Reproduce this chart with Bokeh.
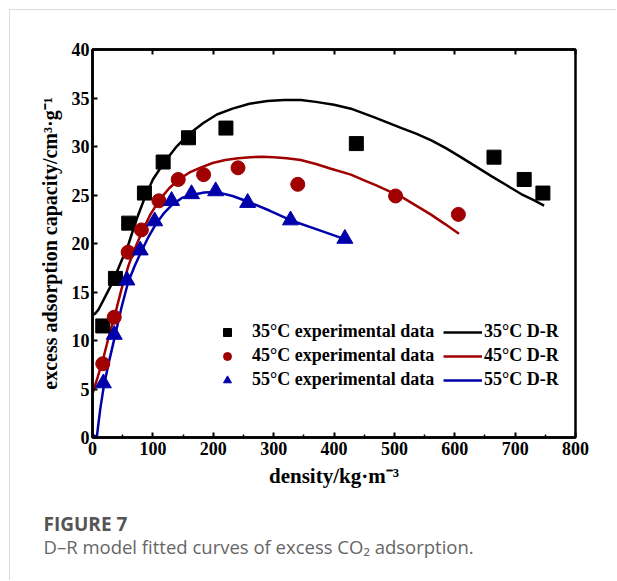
from bokeh.plotting import figure
from bokeh.models import Range1d, LinearAxis, Legend, LegendItem, Label, FixedTicker
from bokeh.embed import file_html
from bokeh.resources import INLINE

# ---- data ----
dens35 = [17, 38, 60, 86, 117, 159, 221, 437, 665, 715, 746]
ads35 = [11.5, 16.4, 22.1, 25.2, 28.4, 30.9, 31.9, 30.3, 28.9, 26.6, 25.2]

dens45 = [17, 36, 59, 81, 110, 142, 184, 241, 340, 502, 606]
ads45 = [7.6, 12.4, 19.1, 21.4, 24.4, 26.6, 27.1, 27.8, 26.1, 24.9, 23.0]

dens55 = [18, 36, 57, 79, 103, 131, 164, 204, 257, 328, 418]
ads55 = [5.6, 10.6, 16.2, 19.3, 22.3, 24.4, 25.1, 25.4, 24.2, 22.4, 20.5]

fit35_x = [0, 5, 10, 20, 30, 40, 50, 60, 73, 87, 100, 118, 138, 160, 183, 206, 232, 260, 290,
           317, 345, 370, 400, 428, 467, 512, 537, 562, 586, 610, 636, 662, 686, 710, 730, 748]
fit35_y = [12.6, 12.8, 13.2, 14.4, 15.6, 17.0, 18.5, 20.0, 22.5, 24.8, 26.6, 28.3, 29.9, 31.3, 32.4,
           33.3, 33.9, 34.4, 34.7, 34.8, 34.8, 34.6, 34.3, 33.9, 33.0, 31.9, 31.3, 30.6, 29.8, 28.9,
           27.9, 26.9, 26.0, 25.1, 24.5, 23.9]

fit45_x = [0, 9, 18, 27, 37, 48, 60, 71, 82, 96, 111, 127, 143, 160, 178, 199, 220, 241, 262, 281,
           300, 322, 345, 370, 395, 428, 450, 470, 491, 512, 536, 560, 584, 607]
fit45_y = [4.5, 6.3, 8.2, 10.4, 12.6, 15.3, 17.8, 19.6, 21.2, 23.0, 24.5, 25.7, 26.6, 27.3, 27.8,
           28.3, 28.6, 28.8, 28.9, 28.95, 28.9, 28.8, 28.6, 28.2, 27.7, 27.1, 26.5, 26.0, 25.4, 24.8,
           23.9, 23.0, 22.0, 21.0]

fit55_x = [0, 7, 10, 13, 19, 28, 37, 48, 59, 70, 81, 92, 104, 118, 132, 148, 164, 185, 206, 232,
           258, 293, 328, 374, 420]
fit55_y = [0.3, 0.0, 1.5, 3.0, 5.4, 8.0, 10.4, 13.4, 16.0, 17.7, 19.2, 20.6, 21.9, 23.1, 24.0, 24.7,
           25.0, 25.25, 25.3, 24.9, 24.3, 23.4, 22.4, 21.4, 20.4]

x_ticks = [0, 100, 200, 300, 400, 500, 600, 700, 800]
x_minor = [50, 150, 250, 350, 450, 550, 650, 750]
y_ticks = [0, 5, 10, 15, 20, 25, 30, 35, 40]

exp_labels = ["35°C experimental data", "45°C experimental data", "55°C experimental data"]
fit_labels = ["35°C D-R", "45°C D-R", "55°C D-R"]

x_title = "density/kg·m⁻³"
y_title = "excess adsorption capacity/cm³·g⁻¹"
cap1 = "FIGURE 7"
cap2 = "D–R model fitted curves of excess CO₂ adsorption."

BLACK = "#000000"
RED = "#A00000"
BLUE = "#0000AA"
SERIF = "Liberation Serif"

p = figure(width=607, height=571, output_backend="svg", toolbar_location=None,
           x_range=Range1d(0, 800), y_range=Range1d(0, 40),
           min_border_left=82, min_border_right=42, min_border_top=39, min_border_bottom=144,
           background_fill_color="white", border_fill_color="white")
p.styles = {"margin-top": "9px", "margin-left": "9px",
            "border-top": "1px solid #dcdcdc", "border-left": "1px solid #dcdcdc"}
p.grid.visible = False
p.outline_line_color = "black"
p.outline_line_width = 2.5

xb = p.below[0]
yl = p.left[0]
xb.ticker = FixedTicker(ticks=x_ticks, minor_ticks=x_minor)
yl.ticker = FixedTicker(ticks=y_ticks, minor_ticks=[])

# top axis (ticks only)
top = LinearAxis(ticker=FixedTicker(ticks=x_ticks, minor_ticks=[]))
p.add_layout(top, "above")

for ax in [xb, yl, top]:
    ax.axis_line_width = 2.5
    ax.major_tick_in = 5
    ax.major_tick_out = 0
    ax.minor_tick_in = 3
    ax.minor_tick_out = 0
    ax.major_tick_line_width = 2
    ax.minor_tick_line_width = 1.5
    ax.major_label_text_font = SERIF
    ax.major_label_text_font_style = "bold"
    ax.major_label_text_font_size = "18px"
    ax.major_label_text_color = "black"
    ax.axis_label_text_font = SERIF
    ax.axis_label_text_font_style = "bold"
    ax.axis_label_text_font_size = "21px"
    ax.axis_label_text_color = "black"

top.major_label_text_alpha = 0
top.major_label_text_font_size = "1px"
top.major_label_standoff = 0

xb.axis_label = x_title
xb.major_label_standoff = 4
xb.axis_label_standoff = 6
yl.axis_label = y_title
yl.axis_label_text_font_size = "20px"
yl.major_label_standoff = 3
yl.axis_label_standoff = 8

# fitted curves
l35 = p.line(fit35_x, fit35_y, line_color=BLACK, line_width=2.5)
l45 = p.line(fit45_x, fit45_y, line_color=RED, line_width=2.5)
l55 = p.line(fit55_x, fit55_y, line_color=BLUE, line_width=2.5)

# experimental data
s35 = p.scatter(dens35, ads35, marker="square", size=14, fill_color=BLACK, line_color=BLACK)
s45 = p.scatter(dens45, ads45, marker="circle", size=14, fill_color=RED, line_color=RED)
s55 = p.scatter(dens55, ads55, marker="triangle", size=16, fill_color=BLUE, line_color=BLUE)


def make_legend(items, loc, gw, standoff):
    lg = Legend(items=items, location=loc, padding=0, margin=0, spacing=3,
                glyph_width=gw, glyph_height=20, label_height=20, label_standoff=standoff,
                border_line_alpha=0, background_fill_alpha=0,
                label_text_font=SERIF, label_text_font_style="bold",
                label_text_font_size="18px", label_text_color="black")
    p.add_layout(lg, "center")


make_legend([LegendItem(label=exp_labels[0], renderers=[s35]),
             LegendItem(label=exp_labels[1], renderers=[s45]),
             LegendItem(label=exp_labels[2], renderers=[s55])], (125, 47), 20, 15)
make_legend([LegendItem(label=fit_labels[0], renderers=[l35]),
             LegendItem(label=fit_labels[1], renderers=[l45]),
             LegendItem(label=fit_labels[2], renderers=[l55])], (351, 47), 39, 2)

# caption (labels placed in the bottom side panel)
c1 = Label(x=-49, y=-7, x_units="screen", y_units="screen", text=cap1, text_font="Open Sans",
           text_font_style="bold", text_font_size="19px", text_color="#555555",
           text_baseline="middle", text_align="left")
c2 = Label(x=-49, y=-5, x_units="screen", y_units="screen", text=cap2, text_font="Open Sans",
           text_font_style="normal", text_font_size="18.5px", text_color="#666666",
           text_baseline="middle", text_align="left")
p.add_layout(c1, "below")
p.add_layout(c2, "below")

open("out.html", "w").write(file_html(p, INLINE))
